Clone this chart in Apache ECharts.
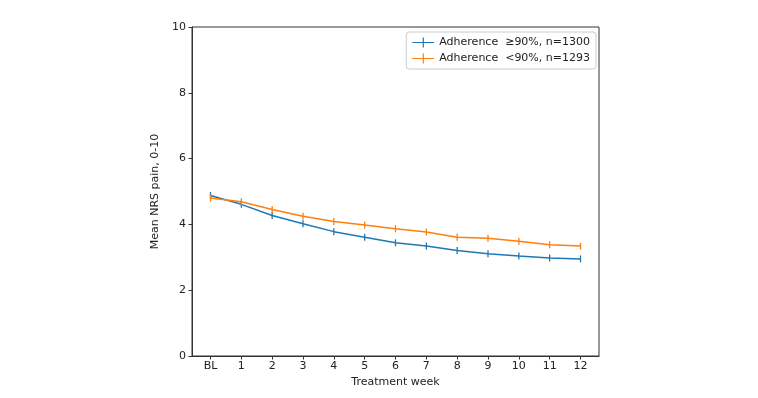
<!DOCTYPE html>
<html>
<head>
<meta charset="utf-8">
<script src="https://cdn.jsdelivr.net/npm/echarts@6/dist/echarts.min.js"></script>
<style>
html,body{margin:0;padding:0;background:#fff;}
#chart{width:758px;height:398px;}
</style>
</head>
<body>
<div id="chart"></div>
<script>
// weeks on x (0 = baseline)
var weeks = [0,1,2,3,4,5,6,7,8,9,10,11,12];
var weekLabels = ['BL','1','2','3','4','5','6','7','8','9','10','11','12'];
var yTicks = [0,2,4,6,8,10];
var seriesNames = ['Adherence  \u226590%, n=1300', 'Adherence  <90%, n=1293'];
var highAdh = [4.88,4.61,4.27,4.02,3.78,3.61,3.44,3.34,3.21,3.11,3.04,2.98,2.95];
var lowAdh  = [4.80,4.69,4.45,4.25,4.09,3.98,3.87,3.77,3.61,3.58,3.49,3.38,3.34];

var font = 'DejaVu Sans';
var crossIcon = 'path://M0,4.4h22v1.2h-22z M10.4,0h1.2v10h-1.2z';

function pairs(vals) {
    var out = [];
    for (var i = 0; i < weeks.length; i++) {
        out.push([weeks[i], vals[i]]);
    }
    return out;
}

var myChart = echarts.init(document.getElementById('chart'), null, {renderer: 'canvas'});
var option = {
    animation: false,
    backgroundColor: '#fff',
    textStyle: {fontFamily: font},
    grid: {left: 192, right: 159, top: 27, bottom: 42, containLabel: false,
        show: true, borderColor: '#333', borderWidth: 1},
    legend: {
        right: 162, top: 32,
        orient: 'vertical',
        itemGap: 5,
        itemWidth: 22, itemHeight: 10,
        padding: [5, 6, 5, 6],
        borderColor: '#ccc', borderWidth: 1, borderRadius: 3,
        textStyle: {fontFamily: font, fontSize: 11, color: '#222'},
        data: [
            {name: seriesNames[0], icon: crossIcon},
            {name: seriesNames[1], icon: crossIcon}
        ]
    },
    xAxis: {
        type: 'value',
        min: -0.6, max: 12.6,
        name: 'Treatment week',
        nameLocation: 'middle',
        nameGap: 20,
        nameTextStyle: {fontFamily: font, fontSize: 11, color: '#222', verticalAlign: 'top'},
        splitLine: {show: false},
        axisLine: {show: true, onZero: false, lineStyle: {color: '#333'}},
        axisTick: {show: true, length: 3.5, customValues: weeks, lineStyle: {color: '#333'}},
        axisLabel: {
            customValues: weeks,
            margin: 5,
            fontFamily: font, fontSize: 11, color: '#222',
            formatter: function (v) { return weekLabels[weeks.indexOf(v)]; }
        }
    },
    yAxis: {
        type: 'value',
        min: 0, max: 10, interval: 2,
        name: 'Mean NRS pain, 0-10',
        nameLocation: 'middle',
        nameGap: 27,
        nameTextStyle: {fontFamily: font, fontSize: 11, color: '#222'},
        splitLine: {show: false},
        axisLine: {show: true, onZero: false, lineStyle: {color: '#333'}},
        axisTick: {show: true, length: 3.5, customValues: yTicks, lineStyle: {color: '#333'}},
        axisLabel: {
            customValues: yTicks,
            margin: 6,
            fontFamily: font, fontSize: 11, color: '#222'
        }
    },
    series: [
        {
            name: seriesNames[0],
            type: 'line',
            data: pairs(highAdh),
            color: '#1f77b4',
            lineStyle: {width: 1.5},
            symbol: 'rect',
            symbolSize: [1.3, 7],
            itemStyle: {color: '#1f77b4'}
        },
        {
            name: seriesNames[1],
            type: 'line',
            data: pairs(lowAdh),
            color: '#ff7f0e',
            lineStyle: {width: 1.5},
            symbol: 'rect',
            symbolSize: [1.3, 7],
            itemStyle: {color: '#ff7f0e'}
        }
    ]
};
myChart.setOption(option);
</script>
</body>
</html>
